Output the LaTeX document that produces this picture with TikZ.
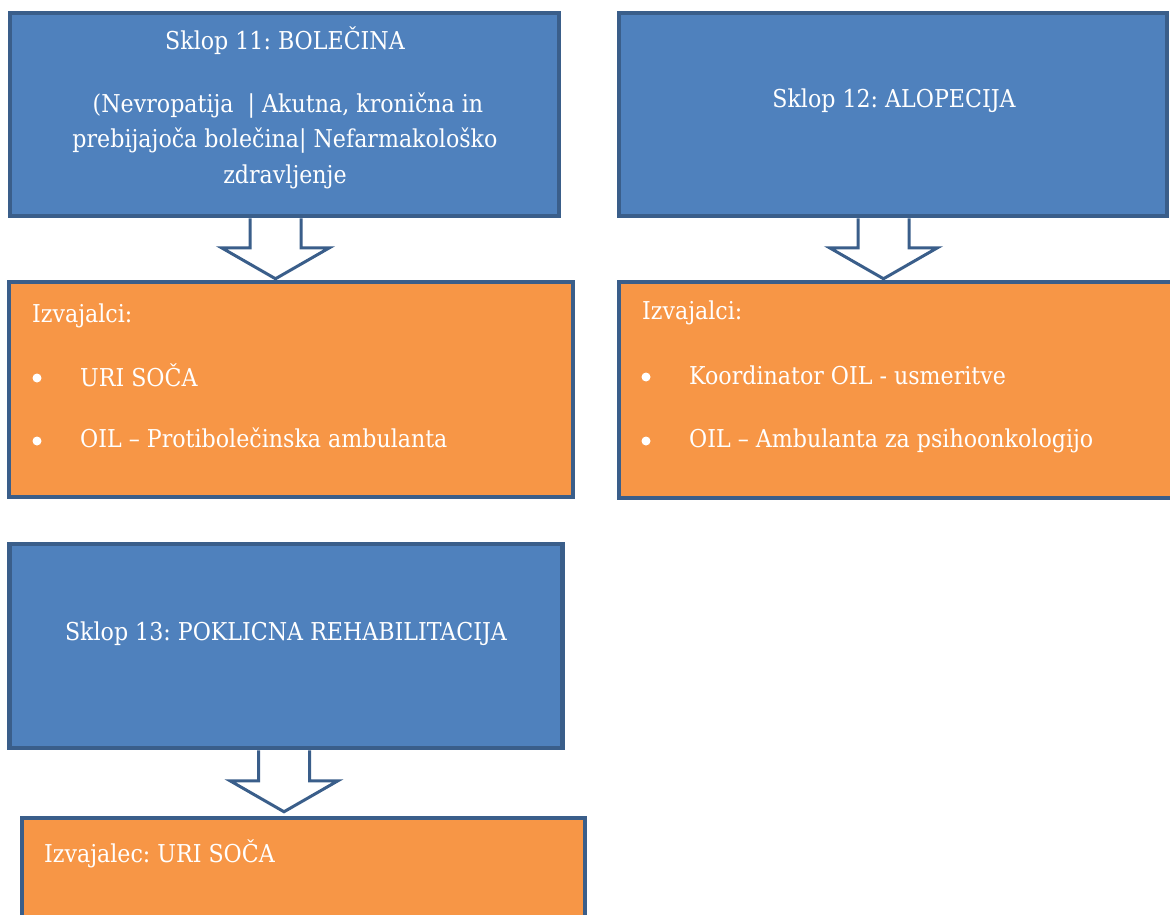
\documentclass[tikz,border=0pt]{standalone}
\usepackage{fontspec}
\setmainfont{DejaVu Serif}[FakeStretch=0.9]
\usetikzlibrary{calc}
\definecolor{boxblue}{HTML}{4F81BD}
\definecolor{boxorange}{HTML}{F79646}
\definecolor{edgeblue}{HTML}{3A5E8A}
\tikzset{
  blockbase/.style={rectangle, draw=edgeblue, line width=4.5pt, inner sep=0pt},
  bluebox/.style={blockbase, fill=boxblue},
  orangebox/.style={blockbase, fill=boxorange},
  label/.style={text=white, font=\fontsize{24.6}{30}\selectfont, inner sep=0pt},
  bulletdot/.style={circle, fill=white, inner sep=0pt, minimum size=9pt},
  blockarrow/.style={draw=edgeblue, line width=3pt, fill=white, line join=miter},
}
\newcommand{\downarrowshape}[2]{% top coordinate, tip coordinate
  \draw[blockarrow] ($(#1)+(-25.5,0)$) -- ($(#2)+(-25.5,-31)$) -- ($(#2)+(-54,-31)$) -- (#2)
     -- ($(#2)+(54,-31)$) -- ($(#2)+(25.5,-31)$) -- ($(#1)+(25.5,0)$);
}
\begin{document}
\frenchspacing
\begin{tikzpicture}[x=1pt,y=-1pt]
\useasboundingbox (0,0) rectangle (1170,915);
\clip (0,0) rectangle (1170,915);

% boxes
\node[bluebox, minimum width=549pt, minimum height=203pt] (b1) at (284.5,114.5) {};
\node[orangebox, minimum width=564pt, minimum height=215pt] (o1) at (291,389.5) {};
\node[bluebox, minimum width=548pt, minimum height=203pt] (b2) at (893,114.5) {};
\node[orangebox, minimum width=561pt, minimum height=216pt] (o2) at (899.5,390) {};
\node[bluebox, minimum width=553pt, minimum height=204pt] (b3) at (286,646) {};
\node[orangebox, minimum width=563pt, minimum height=122pt] (o3) at (303.5,879) {};

% arrows
\coordinate (ax1) at (275.5,0);
\coordinate (ax2) at (883.5,0);
\coordinate (ax3) at (284,0);
\coordinate (a1t) at (ax1 |- b1.south);
\coordinate (a1h) at ($(ax1 |- o1.north)+(0,-1)$);
\coordinate (a2t) at (ax2 |- b2.south);
\coordinate (a2h) at ($(ax2 |- o2.north)+(0,-1)$);
\coordinate (a3t) at (ax3 |- b3.south);
\coordinate (a3h) at ($(ax3 |- o3.north)+(0,-4)$);
\downarrowshape{a1t}{a1h}
\downarrowshape{a2t}{a2h}
\downarrowshape{a3t}{a3h}
\node[bluebox, minimum width=549pt, minimum height=203pt] at (b1.center) {};
\node[bluebox, minimum width=548pt, minimum height=203pt] at (b2.center) {};
\node[bluebox, minimum width=553pt, minimum height=204pt] at (b3.center) {};

% box 1 text
\node[label, anchor=base] (t1a) at (285,50) {Sklop 11: BOLEČINA};
\node[label, anchor=base] (t1b) at (288,113) {(Nevropatija\ \ | Akutna, kronična in};
\node[label, anchor=base] (t1c) at (285,148) {prebijajoča bolečina| Nefarmakološko};
\node[label, anchor=base] (t1d) at (285,183) {zdravljenje};

% box 2 text
\node[label, anchor=base] (t2) at (894,108) {Sklop 12: ALOPECIJA};

% box 3 text
\node[label, anchor=base] (t3) at (286,640) {Sklop 13: POKLICNA REHABILITACIJA};

% orange 1
\node[label, anchor=base west] (o1h) at (32,322) {Izvajalci:};
\node[bulletdot] (o1d1) at (37,378) {};
\node[label, anchor=base west] (o1i1) at (80,386) {URI SOČA};
\node[bulletdot] (o1d2) at (37,441) {};
\node[label, anchor=base west] (o1i2) at (80,447) {OIL – Protibolečinska ambulanta};

% orange 2
\node[label, anchor=base west] (o2h) at (642,319) {Izvajalci:};
\node[bulletdot] (o2d1) at (646,377) {};
\node[label, anchor=base west] (o2i1) at (689,384) {Koordinator OIL - usmeritve};
\node[bulletdot] (o2d2) at (646,441) {};
\node[label, anchor=base west] (o2i2) at (689,447) {OIL – Ambulanta za psihoonkologijo};

% orange 3
\node[label, anchor=base west] (o3h) at (44,862) {Izvajalec: URI SOČA};
\end{tikzpicture}
\end{document}
